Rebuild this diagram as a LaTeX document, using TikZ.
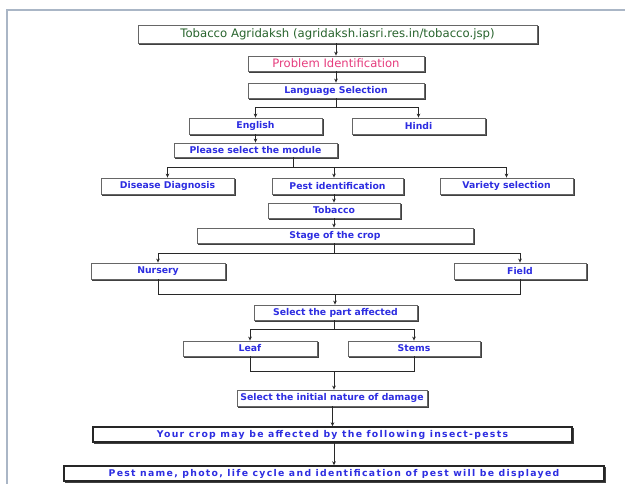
\documentclass[tikz,border=0pt]{standalone}
\usepackage{fontspec}
\setmainfont{DejaVu Sans}
\usetikzlibrary{arrows.meta}
\definecolor{txtblue}{RGB}{45,45,225}
\definecolor{txtgreen}{RGB}{40,100,45}
\definecolor{txtpink}{RGB}{230,60,125}
\definecolor{framec}{RGB}{170,182,198}
\definecolor{linec}{RGB}{40,40,40}
\begin{document}
\begin{tikzpicture}[x=1pt,y=-1pt,
  box/.style={draw=black!60,line width=0.8pt,fill=white,inner sep=0pt,
    font=\fontsize{9.3}{11}\selectfont\bfseries,text=txtblue},
  bigbox/.style={box,line width=1.4pt,draw=black!85,
    font=\fontsize{9.3}{11}\selectfont\bfseries\addfontfeatures{LetterSpace=14}},
  shadowline/.style={draw=black!75,line width=1.3pt},
  conn/.style={draw=linec,line width=1pt},
  arr/.style={conn,-{Stealth[length=4pt,width=3.6pt]}}]
\useasboundingbox (0,0) rectangle (625,484);
\fill[white] (0,0) rectangle (625,484);
\draw[framec,line width=1.6pt] (7,484) -- (7,10) -- (625,10);

\node[box,minimum width=399pt,minimum height=18pt,text=txtgreen,font=\fontsize{11.7}{13}\selectfont] (title) at (337.5,34) {Tobacco Agridaksh (agridaksh.iasri.res.in/tobacco.jsp)};
\node[box,minimum width=176pt,minimum height=15pt,text=txtpink,font=\fontsize{11.6}{13}\selectfont] (prob) at (336,63.5) {Problem Identification};
\node[box,minimum width=176pt,minimum height=15pt] (lang) at (336,90.5) {Language Selection};
\node[box,minimum width=133pt,minimum height=16pt] (eng) at (255.5,126) {English};
\node[box,minimum width=133pt,minimum height=16pt] (hindi) at (418.5,126) {Hindi};
\node[box,minimum width=163pt,minimum height=14pt] (module) at (255.5,150) {Please select the module};
\node[box,minimum width=133pt,minimum height=16pt] (disease) at (167.5,186) {Disease Diagnosis};
\node[box,minimum width=131pt,minimum height=16pt] (pest) at (337.5,186) {Pest identification};
\node[box,minimum width=133pt,minimum height=16pt] (variety) at (506.5,186) {Variety selection};
\node[box,minimum width=132pt,minimum height=15pt] (tobacco) at (334,210.5) {Tobacco};
\node[box,minimum width=276pt,minimum height=15pt] (stage) at (335,235.5) {Stage of the crop};
\node[box,minimum width=134pt,minimum height=16pt] (nursery) at (158,271) {Nursery};
\node[box,minimum width=132pt,minimum height=16pt] (field) at (520,271) {Field};
\node[box,minimum width=163pt,minimum height=15pt] (part) at (335.5,312.5) {Select the part affected};
\node[box,minimum width=134pt,minimum height=15pt] (leaf) at (250,348.5) {Leaf};
\node[box,minimum width=132pt,minimum height=15pt] (stems) at (414,348.5) {Stems};
\node[box,minimum width=190pt,minimum height=16pt] (init) at (332,398) {Select the initial nature of damage};
\node[bigbox,minimum width=479pt,minimum height=15pt] (crop) at (332.5,434.5) {Your crop may be affected by the following insect-pests};
\node[bigbox,minimum width=540pt,minimum height=15pt] (pname) at (334,473.5) {Pest name, photo, life cycle and identification of pest will be displayed};

\foreach \n in {title,prob,lang,eng,hindi,module,disease,pest,variety,tobacco,stage,nursery,field,part,leaf,stems,init,crop,pname}
  \draw[shadowline] ([xshift=1.1pt,yshift=-1.8pt]\n.north east) -- ([xshift=1.1pt,yshift=-1.1pt]\n.south east) -- ([xshift=1.8pt,yshift=-1.1pt]\n.south west);

\coordinate (j1) at (336,107.5);
\coordinate (j2) at (293,167.5);
\coordinate (j3) at (334,253.5);
\coordinate (j4) at (335,294.5);
\coordinate (j5) at (334,329.5);
\coordinate (j6) at (334,371.5);

\draw[arr] (title.south -| prob.north) -- (prob.north);
\draw[arr] (prob.south) -- (lang.north);
\draw[conn] (lang.south) -- (j1);
\draw[arr] (j1) -| (eng.north);
\draw[arr] (j1) -| (hindi.north);
\draw[arr] (eng.south) -- (module.north);
\draw[conn] (module.south -| j2) -- (j2);
\draw[arr] (j2) -| (disease.north);
\draw[arr] (j2) -| (pest.north -| j3);
\draw[arr] (j2) -| (variety.north);
\draw[arr] (pest.south -| tobacco.north) -- (tobacco.north);
\draw[arr] (tobacco.south) -- (stage.north -| tobacco.south);
\draw[conn] (stage.south -| j3) -- (j3);
\draw[arr] (j3) -| (nursery.north);
\draw[arr] (j3) -| (field.north);
\draw[conn] (nursery.south) |- (j4) -| (field.south);
\draw[arr] (j4) -- (part.north -| j4);
\draw[conn] (part.south -| j5) -- (j5);
\draw[arr] (j5) -| (leaf.north);
\draw[arr] (j5) -| (stems.north);
\draw[conn] (leaf.south) |- (j6) -| (stems.south);
\draw[arr] (j6) -- (init.north -| j6);
\draw[arr] (init.south -| crop.north) -- (crop.north);
\draw[arr] (crop.south -| pname.north) -- (pname.north);
\end{tikzpicture}
\end{document}
